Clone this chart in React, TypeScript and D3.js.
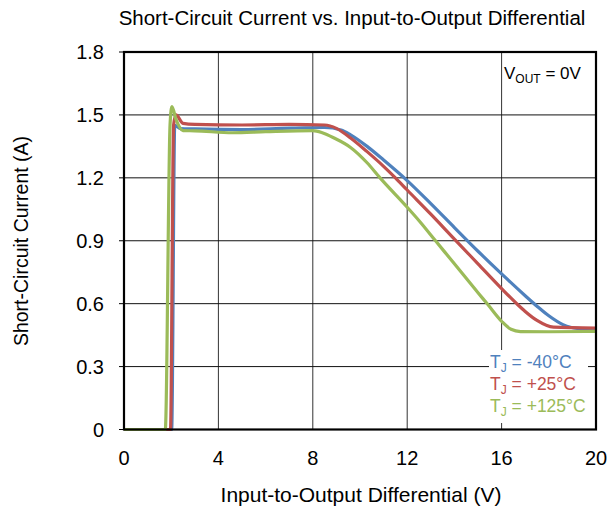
import React from "react";
import * as d3 from "d3";

const xTicks = [0, 4, 8, 12, 16, 20];
const yTicks = [0, 0.3, 0.6, 0.9, 1.2, 1.5, 1.8];
const yTickLabels = ["0", "0.3", "0.6", "0.9", "1.2", "1.5", "1.8"];

const seriesNames = ["-40°C", "+25°C", "+125°C"];
const seriesColors = ["#4F81BD", "#C0504D", "#9BBB59"];

const blue: [number, number][] = [
  [0, 0], [2.02, 0], [2.15, 1.45], [2.4, 1.435], [3, 1.433], [5, 1.43], [7, 1.437], [8.5, 1.44],
  [9.2, 1.428], [9.6, 1.405], [10.3, 1.35], [11, 1.285], [12, 1.187], [13, 1.077], [14, 0.963],
  [15, 0.85], [16, 0.742], [17, 0.638], [17.5, 0.588], [18, 0.542], [18.6, 0.5], [19.2, 0.482], [20, 0.48],
];
const red: [number, number][] = [
  [0, 0], [1.97, 0], [2.1, 1.45], [2.2, 1.5], [2.5, 1.46], [3, 1.455], [5, 1.452], [7, 1.455],
  [8.5, 1.452], [9, 1.436], [9.6, 1.39], [10.3, 1.325], [11, 1.255], [11.5, 1.2], [12, 1.142],
  [13, 1.027], [14, 0.908], [15, 0.79], [16, 0.672], [16.64, 0.6], [17, 0.563], [17.5, 0.52],
  [18.2, 0.488], [20, 0.483],
];
const green: [number, number][] = [
  [0, 0], [1.75, 0], [1.95, 1.45], [2.03, 1.54], [2.2, 1.48], [2.5, 1.425], [3, 1.424],
  [4.6, 1.415], [6, 1.42], [8, 1.425], [8.4, 1.415], [8.9, 1.39], [9.6, 1.345], [10.3, 1.272],
  [10.85, 1.2], [12, 1.06], [12.54, 0.991], [13.2, 0.9], [14, 0.79], [15, 0.652], [15.4, 0.598],
  [16, 0.516], [16.4, 0.478], [16.8, 0.467], [18, 0.466], [20, 0.468],
];
const series = [blue, red, green];

const W = 608;
const H = 508;
const L = 124, R = 596, T = 52, B = 429.5;
const FONT = "Arial, 'Liberation Sans', sans-serif";

export default function App() {
  const x = d3.scaleLinear().domain([0, 20]).range([L, R]);
  const y = d3.scaleLinear().domain([0, 1.8]).range([B, T]);
  const line = d3
    .line<[number, number]>()
    .x((d) => x(d[0]))
    .y((d) => y(d[1]))
    .curve(d3.curveMonotoneX);

  return (
    <svg width={W} height={H} style={{ position: "absolute", left: 0, top: 0 }} fontFamily={FONT}>
      <rect x={0} y={0} width={W} height={H} fill="#fff" />
      <text x={352} y={25} textAnchor="middle" fontSize={20.5} fill="#000">
        Short-Circuit Current vs. Input-to-Output Differential
      </text>
      {/* grid */}
      {xTicks.slice(1, -1).map((t) => (
        <line key={"gx" + t} x1={x(t)} x2={x(t)} y1={T} y2={B} stroke="#333" strokeWidth={1} />
      ))}
      {yTicks.slice(1, -1).map((t) => (
        <line key={"gy" + t} x1={L} x2={R} y1={y(t)} y2={y(t)} stroke="#111" strokeWidth={1} />
      ))}
      {yTicks.map((t) => (
        <line key={"ty" + t} x1={L - 5} x2={L} y1={y(t)} y2={y(t)} stroke="#000" strokeWidth={1} />
      ))}
      {/* series */}
      {series.map((s, i) => (
        <path key={i} d={line(s) || ""} fill="none" stroke={seriesColors[i]} strokeWidth={3.2} strokeLinejoin="round" />
      ))}
      {/* VOUT box */}
      <rect x={503} y={54} width={91} height={44} fill="#fff" />
      <text x={504} y={79} fontSize={17} fill="#000">
        V<tspan fontSize={12} dy={4}>OUT</tspan>
        <tspan dy={-4}> = 0V</tspan>
      </text>
      {/* legend */}
      <rect x={489} y={350} width={99} height={73} fill="#fff" />
      {seriesNames.map((n, i) => (
        <text key={n} x={490} y={368 + i * 22} fontSize={17.5} fill={seriesColors[i]}>
          T<tspan fontSize={12} dy={4}>J</tspan>
          <tspan dy={-4}> = {n}</tspan>
        </text>
      ))}
      {/* frame */}
      <rect x={L} y={T} width={R - L} height={B - T} fill="none" stroke="#000" strokeWidth={2.2} />
      {/* tick labels */}
      {yTicks.map((t, i) => (
        <text key={"yl" + t} x={104} y={y(t)} dy="0.35em" textAnchor="end" fontSize={20} fill="#000">
          {yTickLabels[i]}
        </text>
      ))}
      {xTicks.map((t) => (
        <text key={"xl" + t} x={x(t)} y={465} textAnchor="middle" fontSize={20} fill="#000">
          {t}
        </text>
      ))}
      <text x={361} y={502} textAnchor="middle" fontSize={21} fill="#000">
        Input-to-Output Differential (V)
      </text>
      <text transform="translate(28,241) rotate(-90)" textAnchor="middle" fontSize={19.5} fill="#000">
        Short-Circuit Current (A)
      </text>
    </svg>
  );
}
